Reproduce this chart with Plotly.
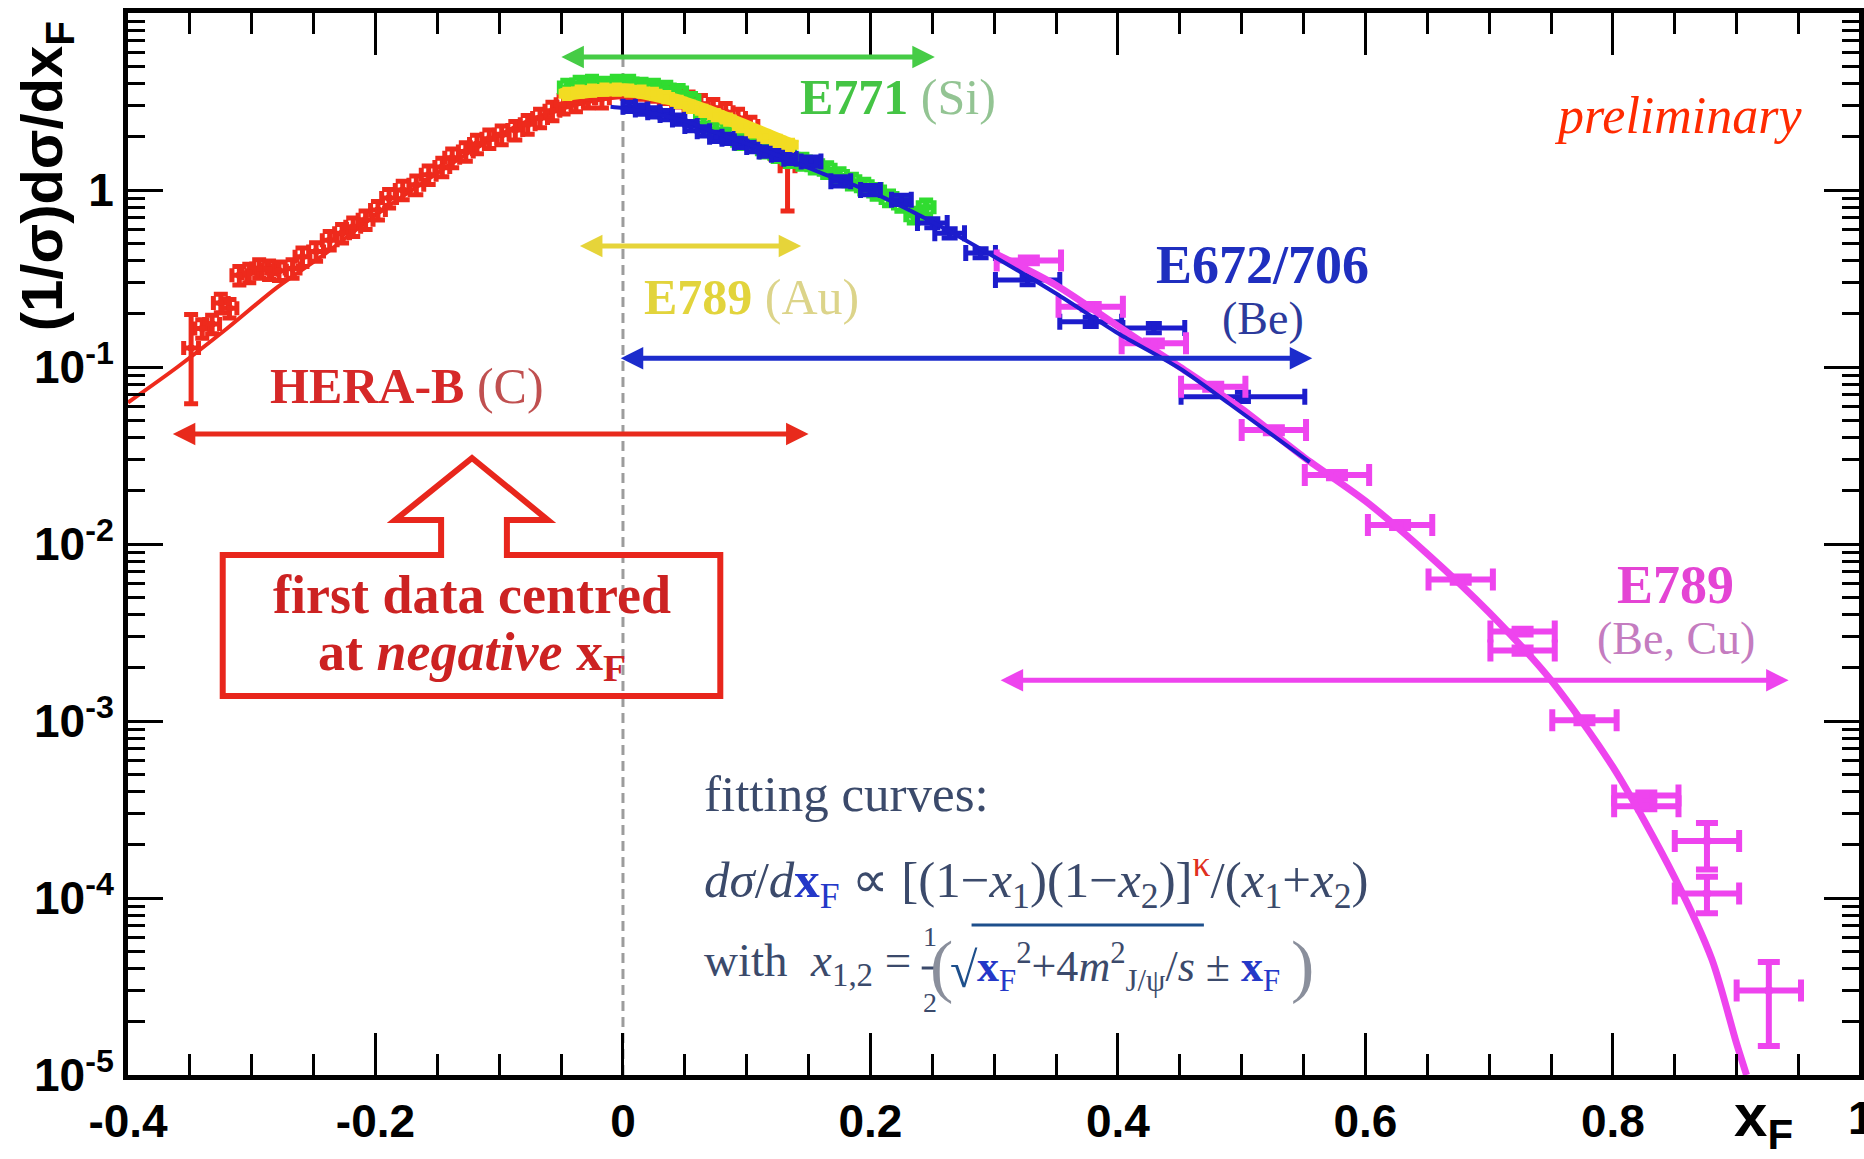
import math
import plotly.graph_objects as go

# ---------------- data ----------------
# HERA-B (C)
hera_x = [-0.340, -0.332, -0.325, -0.318, -0.310, -0.302, -0.294, -0.286, -0.278, -0.267,
          -0.259, -0.248, -0.237, -0.227, -0.218, -0.208, -0.198, -0.189, -0.178, -0.167,
          -0.157, -0.146, -0.138, -0.127, -0.118, -0.108, -0.098, -0.087, -0.077, -0.067,
          -0.057, -0.048, -0.038, -0.028, -0.017, 0.003, 0.013, 0.023, 0.033, 0.043,
          0.053, 0.063, 0.073, 0.083, 0.093, 0.103, 0.113, 0.123]
hera_y = [0.165, 0.175, 0.23, 0.215, 0.33, 0.34, 0.36, 0.355, 0.35, 0.36,
          0.42, 0.45, 0.52, 0.57, 0.62, 0.68, 0.77, 0.90, 1.0, 1.07,
          1.22, 1.35, 1.52, 1.65, 1.82, 1.95, 2.05, 2.18, 2.35, 2.55,
          2.8, 3.05, 3.15, 3.3, 3.3, 3.75, 3.7, 3.6, 3.5, 3.35,
          3.2, 3.05, 2.9, 2.75, 2.55, 2.3, 1.85, 1.7]
# HERA-B outermost bins (large uncertainties)
hera_edge_x = [-0.349, 0.133]
hera_edge_y = [0.128, 1.36]
hera_edge_up = [0.07, 0.26]
hera_edge_dn = [0.066, 0.60]

# E789 (Au)
e789au_x = [-0.045, -0.035, -0.025, -0.015, -0.005, 0.005, 0.015, 0.025, 0.035, 0.045,
            0.055, 0.065, 0.075, 0.085, 0.095, 0.105, 0.115, 0.125, 0.135]
e789au_y = [3.5, 3.6, 3.65, 3.7, 3.7, 3.65, 3.6, 3.5, 3.35, 3.15,
            2.95, 2.8, 2.65, 2.5, 2.3, 2.15, 2.0, 1.9, 1.8]

# E771 (Si)
e771_x = [-0.045, -0.035, -0.025, -0.015, -0.005, 0.005, 0.015, 0.025, 0.035, 0.045,
          0.055, 0.065, 0.075, 0.085, 0.095, 0.105, 0.115, 0.125, 0.135, 0.145,
          0.155, 0.165, 0.175, 0.185, 0.195, 0.205, 0.215, 0.225, 0.235, 0.245]
e771_y = [3.8, 3.95, 4.0, 3.9, 4.0, 4.0, 3.85, 3.8, 3.7, 3.55,
          3.2, 2.6, 2.2, 2.05, 1.9, 1.85, 1.7, 1.6, 1.5, 1.45,
          1.38, 1.3, 1.2, 1.12, 1.05, 0.98, 0.9, 0.84, 0.72, 0.8]

# E672/706 (Be)
e672_x = [0.005, 0.015, 0.025, 0.035, 0.045, 0.055, 0.065, 0.075, 0.085, 0.095,
          0.105, 0.115, 0.125, 0.135, 0.152, 0.176, 0.200, 0.225, 0.250, 0.264,
          0.289, 0.327, 0.378, 0.429, 0.501]
e672_y = [2.95, 2.85, 2.75, 2.65, 2.5, 2.3, 2.15, 2.0, 1.95, 1.85,
          1.75, 1.65, 1.58, 1.5, 1.45, 1.12, 1.0, 0.88, 0.65, 0.57,
          0.44, 0.31, 0.18, 0.166, 0.068]
e672_xerr = [0.005, 0.005, 0.005, 0.005, 0.005, 0.005, 0.005, 0.005, 0.005, 0.005,
             0.005, 0.005, 0.005, 0.005, 0.008, 0.008, 0.008, 0.008, 0.012, 0.012,
             0.012, 0.026, 0.025, 0.025, 0.050]

# E789 (Be, Cu)
e789_x = [0.328, 0.378, 0.429, 0.477, 0.526, 0.577, 0.628, 0.677, 0.727, 0.727,
          0.777, 0.827, 0.827, 0.876, 0.876, 0.926]
e789_y = [0.40, 0.219, 0.136, 0.0774, 0.044, 0.0245, 0.0128, 0.0063, 0.0032, 0.0025,
          0.00101, 3.8e-4, 3.3e-4, 2.1e-4, 1.06e-4, 3.0e-5]
e789_up = [0.015, 0.008, 0.005, 0.003, 0.0017, 0.001, 0.0005, 0.00025, 0.00012, 0.0001,
           0.00004, 1.5e-5, 1.3e-5, 5.5e-5, 2.6e-5, 1.35e-5]
e789_dn = [0.015, 0.008, 0.005, 0.003, 0.0017, 0.001, 0.0005, 0.00025, 0.00012, 0.0001,
           0.00004, 1.5e-5, 1.3e-5, 6.5e-5, 2.4e-5, 1.54e-5]

# fitted curves
fit_hera_x = [-0.40, -0.36, -0.32, -0.28, -0.24, -0.20, -0.16, -0.12, -0.08, -0.04, 0.0, 0.04, 0.08, 0.12, 0.14]
fit_hera_y = [0.063, 0.10, 0.165, 0.28, 0.44, 0.72, 1.12, 1.7, 2.4, 3.0, 3.35, 3.25, 2.7, 2.0, 1.7]
fit_au_x = [-0.05, -0.02, 0.0, 0.04, 0.08, 0.12, 0.14]
fit_au_y = [3.45, 3.65, 3.68, 3.25, 2.6, 2.0, 1.75]
fit_be_x = [-0.01, 0.0, 0.02, 0.05, 0.08, 0.12, 0.16, 0.20, 0.25, 0.30, 0.35, 0.40, 0.45, 0.49, 0.555]
fit_be_y = [2.95, 2.9, 2.75, 2.45, 2.05, 1.62, 1.25, 0.98, 0.66, 0.42, 0.26, 0.155, 0.098, 0.062, 0.029]
fit_becu_x = [0.30, 0.35, 0.40, 0.45, 0.50, 0.55, 0.60, 0.65, 0.70, 0.75, 0.80, 0.85, 0.88, 0.90, 0.908]
fit_becu_y = [0.44, 0.29, 0.17, 0.10, 0.058, 0.031, 0.0175, 0.0088, 0.0041, 0.0017, 5.5e-4, 1.3e-4, 4.5e-5, 1.5e-5, 1.0e-5]

# x_F coverage of each experiment
span_hera = (-0.365, 0.150)
span_e789au = (-0.036, 0.144)
span_e771 = (-0.051, 0.252)
span_e672 = (-0.003, 0.557)
span_e789 = (0.304, 0.942)

x_ticks = [-0.4, -0.2, 0.0, 0.2, 0.4, 0.6, 0.8]
x_ticktext = ["-0.4", "-0.2", "0", "0.2", "0.4", "0.6", "0.8"]
y_ticks = [1e-5, 1e-4, 1e-3, 1e-2, 1e-1, 1]
y_ticktext = ["10<sup>-5</sup>", "10<sup>-4</sup>", "10<sup>-3</sup>",
              "10<sup>-2</sup>", "10<sup>-1</sup>", "1"]

# ---------------- style ----------------
RED = "#ee2a1c"
YELLOW = "#f2dc22"
GREEN = "#30dc30"
BLUE = "#1c1ccc"
MAGENTA = "#ee44ee"

SERIF = "Liberation Serif, Times New Roman, serif"
SANS = "Liberation Sans, Arial, sans-serif"
NARROW = "Liberation Sans Narrow, Arial Narrow, Liberation Sans, sans-serif"

W, H = 1864, 1159
L, R, T, B = 128, 1864, 13, 1075  # plot-area edges in pixels


def px(xp):
    return (xp - L) / (R - L)


def py(yp):
    return (B - yp) / (B - T)


fig = go.Figure()


def line(x, y, color, width):
    fig.add_trace(go.Scatter(x=x, y=y, mode="lines", line=dict(color=color, width=width, shape="spline", smoothing=0.8),
                             hoverinfo="skip", showlegend=False))


def points(x, y, color, xerr, yerr=None, yerr_minus=None, pct=None, thick=4, cap=6, msize=5):
    ey = dict(type="percent", value=pct, symmetric=True) if pct is not None else \
        dict(type="data", array=yerr, arrayminus=yerr_minus, symmetric=False)
    ey.update(color=color, thickness=thick, width=cap)
    ex = dict(type="data", array=xerr, color=color, thickness=thick, width=cap) if isinstance(xerr, list) else \
        dict(type="constant", value=xerr, color=color, thickness=thick, width=cap)
    fig.add_trace(go.Scatter(x=x, y=y, mode="markers",
                             marker=dict(symbol="square", size=msize, color=color),
                             error_x=ex, error_y=ey, hoverinfo="skip", showlegend=False))


# fitted curves and data (drawing order)
line(fit_hera_x, fit_hera_y, RED, 4)
points(hera_x, hera_y, RED, 0.006, pct=12, thick=5, cap=7, msize=6)
points(hera_edge_x, hera_edge_y, RED, 0.006, yerr=hera_edge_up, yerr_minus=hera_edge_dn, thick=5, cap=7, msize=6)
points(e771_x, e771_y, GREEN, 0.006, pct=9, thick=6, cap=7, msize=7)
points(e672_x, e672_y, BLUE, e672_xerr, pct=6, thick=5, cap=8)
line(fit_au_x, fit_au_y, YELLOW, 13)
points(e789au_x, e789au_y, YELLOW, 0.005, pct=6, thick=5, cap=5, msize=6)
points(e789_x, e789_y, MAGENTA, 0.026, yerr=e789_up, yerr_minus=e789_dn, thick=6, cap=11, msize=7)
line(fit_becu_x, fit_becu_y, MAGENTA, 7)
line(fit_be_x, fit_be_y, BLUE, 4)

# ---------------- annotations ----------------
ann = []


def label(xp, yp, text, size, color, family=SERIF, xanchor="center", **kw):
    ann.append(dict(x=px(xp), y=py(yp), xref="paper", yref="paper", text=text, showarrow=False,
                    font=dict(family=family, size=size, color=color), xanchor=xanchor, yanchor="middle", **kw))


def span_arrow(span, level, color):
    ly = math.log10(level)
    ann.append(dict(x=span[1], y=ly, ax=span[0], ay=ly, xref="x", yref="y", axref="x", ayref="y",
                    text="", showarrow=True, arrowhead=2, startarrowhead=2, arrowside="end+start",
                    arrowwidth=5, arrowsize=0.9, startarrowsize=0.9, arrowcolor=color,
                    standoff=0, startstandoff=0))


span_arrow(span_e771, 5.64, "#46cc46")
span_arrow(span_e789au, 0.483, "#e6d43a")
span_arrow(span_e672, 0.112, "#1c2ccc")
span_arrow(span_hera, 0.0418, "#e82a1c")
span_arrow(span_e789, 0.0017, "#ee44ee")

label(900, 97, "<b><span style='color:#44c444'>E771</span></b><span style='color:#93c493'> (Si)</span>", 50, "#44c444")
label(753, 297, "<b><span style='color:#e2d43c'>E789</span></b><span style='color:#dcd48a'> (Au)</span>", 50, "#e2d43c")
label(1266, 265, "<b>E672/706</b>", 54, "#1f2fbf")
label(1266, 318, "(Be)", 46, "#2c3a9c")
label(408, 386, "<b><span style='color:#d62828'>HERA-B</span></b><span style='color:#c05050'> (C)</span>", 50, "#d62828")
label(1680, 585, "<b>E789</b>", 54, "#e444d4")
label(1680, 639, "(Be, Cu)", 46, "#c47cc0")
label(1683, 115, "<i>preliminary</i>", 52, "#ff2a00")

label(473, 595, "<b>first data centred</b>", 54, "#cc2222")
label(473, 655, "<b>at <i>negative</i> x<sub>F</sub></b>", 54, "#cc2222")

FORM = "#3b4a6b"
XF = "<b><span style='color:#2438c8'>x</span></b><sub><span style='color:#2438c8'>F</span></sub>"
label(704, 794, "fitting curves:", 51, FORM, xanchor="left")
label(704, 880, "<i>dσ</i>/<i>d</i>" + XF + " ∝ [(1−<i>x</i><sub>1</sub>)(1−<i>x</i><sub>2</sub>)]"
      "<sup><span style='color:#e03020'>κ</span></sup>/(<i>x</i><sub>1</sub>+<i>x</i><sub>2</sub>)",
      51, FORM, xanchor="left")
label(704, 963, "with  <i>x</i><sub>1,2</sub> =", 47, FORM, xanchor="left")
label(932, 936, "1", 28, FORM)
label(932, 1002, "2", 28, FORM)
label(944, 965, "(", 70, "#8a8f9c")
label(950, 970, "√", 50, "#1d4f8c", xanchor="left")
label(977, 967, XF + "<sup>2</sup>+4<i>m</i><sup>2</sup><sub>J/ψ</sub>/<i>s</i> ± " + XF, 44, FORM, xanchor="left")
label(1306, 965, ")", 70, "#8a8f9c")

# axis titles
ann.append(dict(x=px(46), y=py(176), xref="paper", yref="paper", text="<b>(1/σ)dσ/dx<sub>F</sub></b>",
                textangle=-90, showarrow=False, font=dict(family=SANS, size=58, color="black"),
                xanchor="center", yanchor="middle"))
label(1768, 1120, "<b>x<sub>F</sub></b>", 60, "black", family=SANS)
# tick label at the right edge
label(1866, 1118, "<b>1</b>", 46, "black", family=NARROW)

# ---------------- shapes ----------------
shapes = []
# x_F = 0 reference line
shapes.append(dict(type="line", xref="x", yref="paper", x0=0, x1=0, y0=0, y1=py(57),
                   line=dict(color="#9c9c9c", width=3, dash="10px,6px"), layer="below"))
# callout box with hollow arrow
outline = [(223, 555), (442, 555), (442, 520), (396, 520), (473, 458), (549, 520),
           (508, 520), (508, 555), (722, 555), (722, 696), (223, 696)]
path = "M " + " L ".join(f"{px(a):.5f},{py(b):.5f}" for a, b in outline) + " Z"
shapes.append(dict(type="path", xref="paper", yref="paper", path=path,
                   line=dict(color="#e8261c", width=6)))
# radical overline and fraction bar
shapes.append(dict(type="line", xref="paper", yref="paper", x0=px(974), x1=px(1207), y0=py(925), y1=py(925),
                   line=dict(color="#1d4f8c", width=3)))
shapes.append(dict(type="line", xref="paper", yref="paper", x0=px(924), x1=px(940), y0=py(968), y1=py(968),
                   line=dict(color=FORM, width=3)))

tickfont = dict(family=NARROW, size=46, color="black", weight="bold")
minor_x = [v / 100 for v in range(-35, 100, 5) if v % 20 != 0]
minor_y = [k * 10.0 ** e for e in range(-5, 1) for k in range(2, 10)]

fig.update_layout(
    width=W, height=H,
    margin=dict(l=L, r=W - R, t=T, b=H - B, pad=0),
    paper_bgcolor="white", plot_bgcolor="white",
    showlegend=False,
    annotations=ann, shapes=shapes,
    xaxis=dict(range=[-0.4, -0.4 + (R - L) / 1241.0], showgrid=False, zeroline=False,
               showline=True, linecolor="black", linewidth=5, mirror="ticks",
               ticks="inside", ticklen=42, tickwidth=3, tickcolor="black",
               tickvals=x_ticks, ticktext=x_ticktext, tickfont=tickfont, ticklabelstandoff=2,
               minor=dict(tickvals=minor_x, ticks="inside", ticklen=21, tickwidth=3, tickcolor="black",
                          showgrid=False)),
    yaxis=dict(type="log", range=[-5, 1], showgrid=False, zeroline=False,
               showline=True, linecolor="black", linewidth=5, mirror="ticks",
               ticks="inside", ticklen=35, tickwidth=3, tickcolor="black",
               tickvals=y_ticks, ticktext=y_ticktext, tickfont=tickfont, ticklabelstandoff=0,
               minor=dict(tickvals=minor_y, ticks="inside", ticklen=17, tickwidth=3, tickcolor="black",
                          showgrid=False)),
)

fig.write_html("out.html")
